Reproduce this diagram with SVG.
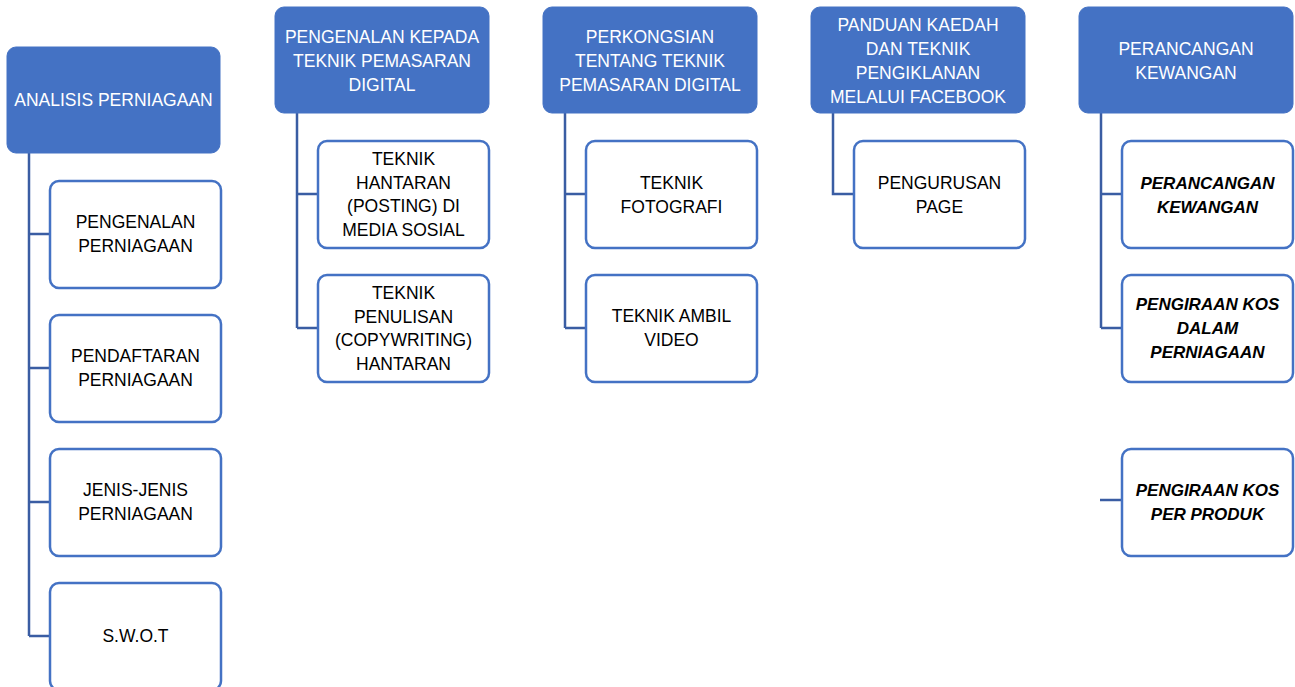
<svg xmlns="http://www.w3.org/2000/svg" width="1295" height="687" viewBox="0 0 1295 687">
<style>
.hdr{fill:#4472C4;stroke:#4472C4;stroke-width:1}
.ch{fill:#FFFFFF;stroke:#4472C4;stroke-width:2.5}
.ht{font-family:"Liberation Sans",Arial,sans-serif;font-size:17.5px;fill:#FFFFFF;text-anchor:middle}
.ct{font-family:"Liberation Sans",Arial,sans-serif;font-size:17.5px;fill:#000000;text-anchor:middle}
.it{font-weight:bold;font-style:italic;font-size:17px}
.con{fill:none;stroke:#3A5DA3;stroke-width:2.5}
</style>
<rect width="1295" height="687" fill="#FFFFFF"/>
<g id="connectors">
<path class="con" d="M29 153 V636 M29 234 H49 M29 368 H49 M29 502 H49 M29 636 H49"/>
<path class="con" d="M297 113 V328 M297 194 H317 M297 328 H317"/>
<path class="con" d="M565 113 V328 M565 194 H585 M565 328 H585"/>
<path class="con" d="M833 113 V194 H853"/>
<path class="con" d="M1101 113 V328 M1101 194 H1125 M1101 328 H1121"/>
<path class="con" d="M1100 500 H1125"/>
</g>
<g id="n-analisis">
<rect class="hdr" x="7" y="47" width="213" height="106" rx="9"/>
<text class="ht" x="113.5" y="106">ANALISIS PERNIAGAAN</text>
</g>
<g id="n-pengenalan-perniagaan">
<rect class="ch" x="50" y="181" width="171" height="107" rx="9"/>
<text class="ct" x="135.5" y="228">PENGENALAN</text>
<text class="ct" x="135.5" y="252">PERNIAGAAN</text>
</g>
<g id="n-pendaftaran">
<rect class="ch" x="50" y="315" width="171" height="107" rx="9"/>
<text class="ct" x="135.5" y="362">PENDAFTARAN</text>
<text class="ct" x="135.5" y="386">PERNIAGAAN</text>
</g>
<g id="n-jenis">
<rect class="ch" x="50" y="449" width="171" height="107" rx="9"/>
<text class="ct" x="135.5" y="496">JENIS-JENIS</text>
<text class="ct" x="135.5" y="520">PERNIAGAAN</text>
</g>
<g id="n-swot">
<rect class="ch" x="50" y="583" width="171" height="107" rx="9"/>
<text class="ct" x="135.5" y="642">S.W.O.T</text>
</g>
<g id="n-pengenalan-teknik">
<rect class="hdr" x="275" y="7" width="214" height="106" rx="9"/>
<text class="ht" x="382" y="43">PENGENALAN KEPADA</text>
<text class="ht" x="382" y="67">TEKNIK PEMASARAN</text>
<text class="ht" x="382" y="91">DIGITAL</text>
</g>
<g id="n-hantaran">
<rect class="ch" x="318" y="141" width="171" height="107" rx="9"/>
<text class="ct" x="403.5" y="165">TEKNIK</text>
<text class="ct" x="403.5" y="189">HANTARAN</text>
<text class="ct" x="403.5" y="212">(POSTING) DI</text>
<text class="ct" x="403.5" y="236">MEDIA SOSIAL</text>
</g>
<g id="n-penulisan">
<rect class="ch" x="318" y="275" width="171" height="107" rx="9"/>
<text class="ct" x="403.5" y="299">TEKNIK</text>
<text class="ct" x="403.5" y="323">PENULISAN</text>
<text class="ct" x="403.5" y="346">(COPYWRITING)</text>
<text class="ct" x="403.5" y="370">HANTARAN</text>
</g>
<g id="n-perkongsian">
<rect class="hdr" x="543" y="7" width="214" height="106" rx="9"/>
<text class="ht" x="650" y="43">PERKONGSIAN</text>
<text class="ht" x="650" y="67">TENTANG TEKNIK</text>
<text class="ht" x="650" y="91">PEMASARAN DIGITAL</text>
</g>
<g id="n-fotografi">
<rect class="ch" x="586" y="141" width="171" height="107" rx="9"/>
<text class="ct" x="671.5" y="189">TEKNIK</text>
<text class="ct" x="671.5" y="213">FOTOGRAFI</text>
</g>
<g id="n-video">
<rect class="ch" x="586" y="275" width="171" height="107" rx="9"/>
<text class="ct" x="671.5" y="322">TEKNIK AMBIL</text>
<text class="ct" x="671.5" y="346">VIDEO</text>
</g>
<g id="n-panduan">
<rect class="hdr" x="811" y="7" width="214" height="106" rx="9"/>
<text class="ht" x="918" y="31">PANDUAN KAEDAH</text>
<text class="ht" x="918" y="55">DAN TEKNIK</text>
<text class="ht" x="918" y="79">PENGIKLANAN</text>
<text class="ht" x="918" y="103">MELALUI FACEBOOK</text>
</g>
<g id="n-page">
<rect class="ch" x="854" y="141" width="171" height="107" rx="9"/>
<text class="ct" x="939.5" y="189">PENGURUSAN</text>
<text class="ct" x="939.5" y="213">PAGE</text>
</g>
<g id="n-perancangan">
<rect class="hdr" x="1079" y="7" width="214" height="106" rx="9"/>
<text class="ht" x="1186" y="55">PERANCANGAN</text>
<text class="ht" x="1186" y="79">KEWANGAN</text>
</g>
<g id="n-perancangan-kewangan">
<rect class="ch" x="1122" y="141" width="171" height="107" rx="9"/>
<text class="ct it" x="1207.5" y="189">PERANCANGAN</text>
<text class="ct it" x="1207.5" y="213">KEWANGAN</text>
</g>
<g id="n-kos-perniagaan">
<rect class="ch" x="1122" y="275" width="171" height="107" rx="9"/>
<text class="ct it" x="1207.5" y="310">PENGIRAAN KOS</text>
<text class="ct it" x="1207.5" y="334">DALAM</text>
<text class="ct it" x="1207.5" y="358">PERNIAGAAN</text>
</g>
<g id="n-kos-produk">
<rect class="ch" x="1122" y="449" width="171" height="107" rx="9"/>
<text class="ct it" x="1207.5" y="496">PENGIRAAN KOS</text>
<text class="ct it" x="1207.5" y="520">PER PRODUK</text>
</g>
</svg>
